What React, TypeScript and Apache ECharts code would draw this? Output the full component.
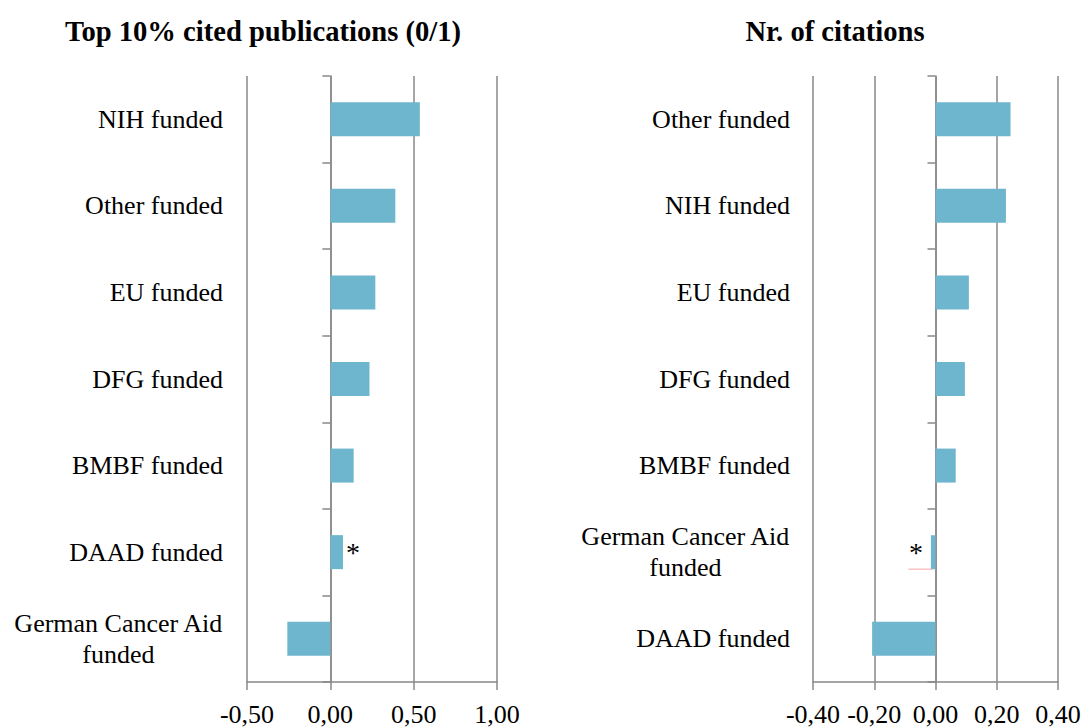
import React, { useEffect, useRef } from "react";
import * as echarts from "echarts";

const leftTitle = "Top 10% cited publications (0/1)";
const rightTitle = "Nr. of citations";

const leftCategories = [
  "NIH funded",
  "Other funded",
  "EU funded",
  "DFG funded",
  "BMBF funded",
  "DAAD funded",
  "German Cancer Aid\nfunded",
];
const leftValues = [0.537, 0.39, 0.27, 0.235, 0.14, 0.076, -0.258];
const leftStarIndex = 5;

const rightCategories = [
  "Other funded",
  "NIH funded",
  "EU funded",
  "DFG funded",
  "BMBF funded",
  "German Cancer Aid\nfunded",
  "DAAD funded",
];
const rightValues = [0.245, 0.23, 0.109, 0.096, 0.066, -0.015, -0.207];
const rightStarIndex = 5;

const leftTicks = { min: -0.5, max: 1.0, interval: 0.5 };
const rightTicks = { min: -0.4, max: 0.4, interval: 0.2 };

const FONT = "'Liberation Serif', 'Times New Roman', serif";
const BAR = "#6EB6CE";
const GRID = "#888888";
const BAR_W = 34;

const fmt = (v: number) => v.toFixed(2).replace(".", ",");

const catFormatter = (v: string) =>
  v
    .split("\n")
    .map((l) => `{c|${l}}`)
    .join("\n");

export default function App() {
  const ref = useRef<HTMLDivElement>(null);
  useEffect(() => {
    document.body.style.margin = "0";
    if (!ref.current) return;
    const chart = echarts.init(ref.current, undefined, { renderer: "svg" });
    const valueAxis = (gridIndex: number, t: any) => ({
      type: "value",
      gridIndex,
      min: t.min,
      max: t.max,
      interval: t.interval,
      axisLine: { show: true, lineStyle: { color: GRID, width: 1.5 } },
      axisTick: { show: true, length: 8, lineStyle: { color: GRID, width: 1.5 } },
      splitLine: { show: true, lineStyle: { color: GRID, width: 1.5 } },
      axisLabel: {
        formatter: fmt,
        color: "#000",
        fontFamily: FONT,
        fontSize: 26,
        margin: 19,
      },
    });
    const catAxis = (gridIndex: number, data: string[], margin: number) => ({
      type: "category",
      gridIndex,
      data,
      inverse: true,
      axisLine: { show: true, onZero: true, lineStyle: { color: GRID, width: 1.5 } },
      axisTick: { show: true, length: 8, lineStyle: { color: GRID, width: 1.5 } },
      axisLabel: {
        margin,
        formatter: catFormatter,
        rich: {
          c: {
            align: "center",
            fontFamily: FONT,
            fontSize: 26,
            color: "#000",
            lineHeight: 31,
          },
        },
      },
    });
    const starLabel = (pos: string, dist: number) => ({
      show: true,
      position: pos,
      distance: dist,
      formatter: "*",
      color: "#000",
      fontFamily: FONT,
      fontSize: 28,
    });
    chart.setOption({
      animation: false,
      backgroundColor: "#fff",
      title: [
        {
          text: leftTitle,
          left: 258,
          top: 12,
          textAlign: "center",
          textStyle: { fontFamily: FONT, fontSize: 28.6, fontWeight: "bold", color: "#000" },
        },
        {
          text: rightTitle,
          left: 830,
          top: 12,
          textAlign: "center",
          textStyle: { fontFamily: FONT, fontSize: 28.6, fontWeight: "bold", color: "#000" },
        },
      ],
      grid: [
        { left: 247, width: 250, top: 76, height: 606, outerBoundsMode: "none", containLabel: false },
        { left: 813, width: 245, top: 76, height: 606, outerBoundsMode: "none", containLabel: false },
      ],
      xAxis: [valueAxis(0, leftTicks), valueAxis(1, rightTicks)],
      yAxis: [catAxis(0, leftCategories, 24), catAxis(1, rightCategories, 23)],
      series: [
        {
          type: "bar",
          xAxisIndex: 0,
          yAxisIndex: 0,
          barWidth: BAR_W,
          itemStyle: { color: BAR },
          data: leftValues.map((v, i) =>
            i === leftStarIndex ? { value: v, label: starLabel("right", 3) } : v
          ),
        },
        {
          type: "bar",
          xAxisIndex: 1,
          yAxisIndex: 1,
          barWidth: BAR_W,
          itemStyle: { color: BAR },
          data: rightValues.map((v, i) =>
            i === rightStarIndex ? { value: v, label: starLabel("left", 8) } : v
          ),
        },
      ],
    });
    // thin red underline next to the starred bar on the right panel
    const yc = chart.convertToPixel({ yAxisIndex: 1 } as any, rightStarIndex) as number;
    const x0 = chart.convertToPixel({ xAxisIndex: 1 } as any, 0) as number;
    chart.setOption({
      graphic: [
        {
          type: "line",
          shape: { x1: x0 - 27, y1: yc + BAR_W / 2, x2: x0 - 3, y2: yc + BAR_W / 2 },
          style: { stroke: "#F4A3A3", lineWidth: 1 },
          z: 10,
        },
      ],
    });
    return () => chart.dispose();
  }, []);
  return <div ref={ref} style={{ width: 1083, height: 727 }} />;
}
